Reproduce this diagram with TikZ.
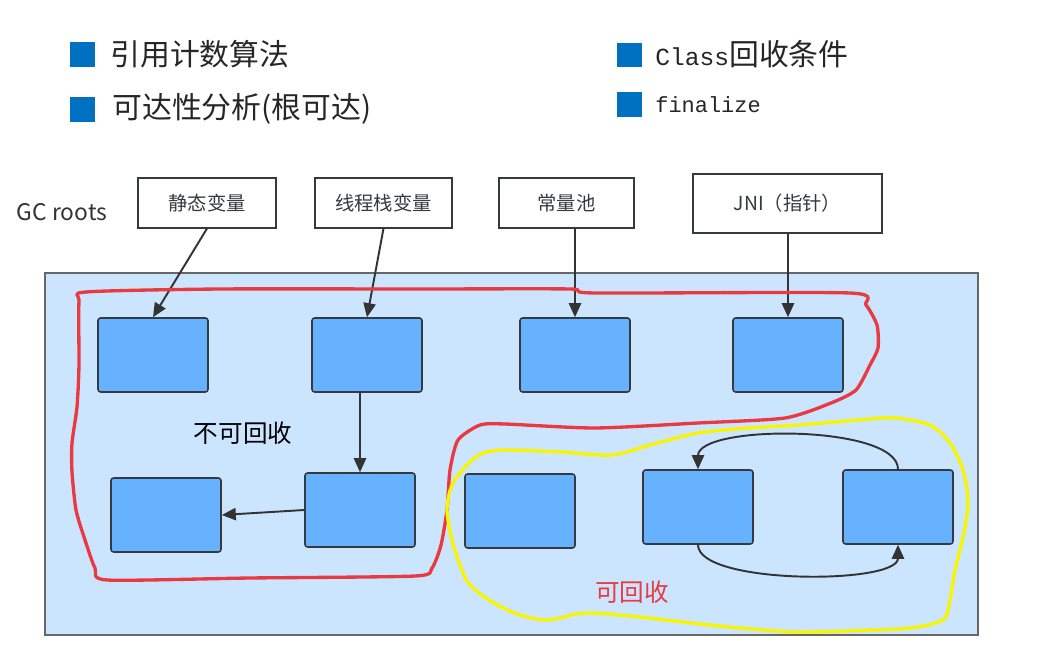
\documentclass[tikz,border=0pt]{standalone}
\usepackage{fontspec}
\usetikzlibrary{arrows.meta}
\newfontfamily\cjk{Noto Sans CJK SC}
\newfontfamily\monofont{Liberation Mono}
\definecolor{heapfill}{RGB}{204,229,255}
\definecolor{objfill}{RGB}{102,178,255}
\definecolor{edgecol}{RGB}{54,57,61}
\definecolor{marker}{RGB}{0,112,192}
\definecolor{keepcol}{RGB}{232,58,64}
\definecolor{freecol}{RGB}{248,245,0}
\tikzstyle{rootbox} = [draw=edgecol,fill=white,line width=0.6pt,minimum width=2.76cm,minimum height=1cm,inner sep=0pt,text=edgecol,font=\cjk\fontsize{11}{13}\selectfont]
\tikzstyle{objbox} = [draw=edgecol,fill=objfill,line width=0.9pt,rounded corners=1.5pt,minimum width=2.2cm,minimum height=1.48cm,inner sep=0pt]
\tikzstyle{heap} = [draw=black!60,fill=heapfill,line width=0.9pt,minimum width=18.66cm,minimum height=7.24cm,inner sep=0pt]
\tikzstyle{sqmark} = [fill=marker,minimum size=0.5cm,inner sep=0pt]
\tikzstyle{title} = [anchor=west,inner sep=0pt,text=black!85,font=\cjk\fontsize{17}{20}\selectfont]
\tikzstyle{ref} = [draw=black!80,line width=1.1pt,-{Triangle[length=8pt,width=7pt]}]
\tikzstyle{hand} = [line width=1.9pt,line join=round]

\begin{document}
\begin{tikzpicture}[x=0.02cm,y=-0.02cm]
		\useasboundingbox (0,0) rectangle (1039,652);
		% topics
		\node [sqmark](m1) at (82.5,54.5){};
		\node [title](t1) at (110,54){引用计数算法};
		\node [sqmark](m2) at (82.5,109.5){};
		\node [title](t2) at (112,109){可达性分析(根可达)};
		\node [sqmark](m3) at (629.5,55){};
		\node [title](t3) at (655,54){{\fontsize{14}{16}\monofont Class}回收条件};
		\node [sqmark](m4) at (629.5,104.5){};
		\node [title,font=\monofont\fontsize{12.5}{15}\selectfont](t4) at (655,105){finalize};
		
		% roots
		\node [text=black!80,font=\cjk\fontsize{13}{15}\selectfont](gc) at (62,212){GC roots};
		\node [rootbox](r1) at (207,203){静态变量};
		\node [rootbox,minimum width=2.74cm](r2) at (383.5,203){线程栈变量};
		\node [rootbox,minimum width=2.7cm](r3) at (566.5,203){常量池};
		\node [rootbox,minimum width=3.78cm,minimum height=1.18cm](r4) at (787.5,203.5){JNI（指针）};
		
		% heap
		\node [heap](heap) at (511.5,454){};
		\node [objbox](b1) at (153,355){};
		\node [objbox](b2) at (367,355){};
		\node [objbox](b3) at (575,355){};
		\node [objbox](b4) at (788,355){};
		\node [objbox](b5) at (166,515){};
		\node [objbox](b6) at (360,510){};
		\node [objbox](b7) at (520,511){};
		\node [objbox](b8) at (698,507){};
		\node [objbox](b9) at (898,507){};
		\node [font=\cjk\fontsize{14}{16}\selectfont](keep) at (243,433){不可回收};
		\node [text=keepcol,font=\cjk\fontsize{14}{16}\selectfont](free) at (632,592){可回收};
		
		\draw[ref](r1.south)--(b1.north);
		\draw[ref](r2.south)--(b2.north);
		\draw[ref](r3.south -| b3.north)--(b3.north);
		\draw[ref](r4.south -| b4.north)--(b4.north);
		\draw[ref](b2.south -| b6.north)--(b6.north);
		\draw[ref](b6.west)--(b5.east);
		\draw[ref](b9.north) .. controls +(0,-45) and +(0,-45) .. (b8.north);
		\draw[ref](b8.south) .. controls +(0,40) and +(0,40) .. (b9.south);
		
		% hand drawn outlines
		\draw[hand,keepcol] plot[smooth cycle,tension=0.4] coordinates {(86,292) (220,289) (420,289) (570,289) (595,293) (850,293) (866,305) (877,325) (878,348) (870,365) (856,390) (831,403) (785,418) (698,423) (595,428) (505,424) (480,425) (458,440) (450,470) (447,510) (441,545) (432,568) (415,576) (250,578) (107,580) (95,568) (85,540) (76,510) (72,472) (72,443) (77,407) (79,365) (79,302)};
		\draw[hand,freecol] plot[smooth cycle,tension=0.5] coordinates {(467,465) (483,453) (508,450) (560,452) (612,455) (650,445) (698,433) (750,428) (799,425) (870,419) (896,418) (930,425) (950,443) (963,470) (968,500) (964,533) (955,570) (950,600) (943,620) (910,628) (871,630) (799,632) (740,628) (691,623) (630,616) (584,613) (548,620) (520,615) (494,603) (470,585) (460,565) (452,540) (447,510) (452,485)};
		\end{tikzpicture}
\end{document}
